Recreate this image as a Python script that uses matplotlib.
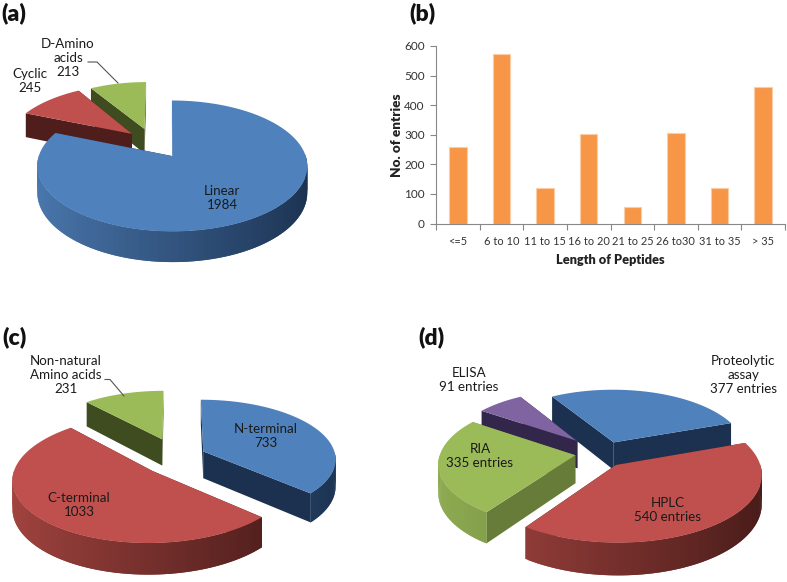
import numpy as np
import matplotlib
matplotlib.use("Agg")
import matplotlib.pyplot as plt
from matplotlib.colors import to_rgb

plt.rcParams['font.family'] = ['Lato', 'DejaVu Sans']

# panel (a)
a_names = ["Linear", "Cyclic", "D-Amino\nacids"]
a_values = [1984, 245, 213]
# panel (b)
b_labels = ["<=5", "6 to 10", "11 to 15", "16 to 20", "21 to 25", "26 to30", "31 to 35", "> 35"]
b_values = [258, 572, 121, 304, 57, 306, 121, 462]
b_ticks = [0, 100, 200, 300, 400, 500, 600]
# panel (c)
c_names = ["N-terminal", "C-terminal", "Non-natural\nAmino acids"]
c_values = [733, 1033, 231]
# panel (d)
d_names = ["Proteolytic\nassay", "HPLC", "RIA", "ELISA"]
d_values = [377, 540, 335, 91]

BLUE = dict(top="#4f81bd", left="#4a78ae", right="#1b3150", cut="#1c314f")
RED = dict(top="#c0504d", left="#a3443f", right="#471b19", cut="#4f1e1c")
GREEN = dict(top="#9bbb59", left="#8aa84f", right="#3f4c1f", cut="#3f4c1f")
GREEN_D = dict(top="#9bbb59", left="#8eab51", right="#64793a", cut="#667c38")
PURPLE = dict(top="#8064a2", left="#6a5388", right="#32264a", cut="#32264a")


def project(u, v, geo):
    w = 1 + geo["p"] * v
    return geo["cx"] + geo["rx"] * u / w, geo["cy"] - geo["ry"] * v / w, w


def pie3d(ax, values, start, geo, explode, radius, nudge, colors, order):
    # exploded pie, clockwise from 12 o'clock, flat disc seen in perspective
    edges = start + np.concatenate([[0], np.cumsum(values)]) / np.sum(values) * 360
    for z, i in enumerate(order):
        t = np.radians(np.linspace(edges[i], edges[i + 1], 121))
        mid = np.radians((edges[i] + edges[i + 1]) / 2)
        ou, ov = explode[i] * np.sin(mid), explode[i] * np.cos(mid)
        rim_x, rim_y, rim_w = project(ou + radius[i] * np.sin(t), ov + radius[i] * np.cos(t), geo)
        ax_, ay_, aw_ = project(ou, ov, geo)
        rim_x, ax_ = rim_x + nudge[i][0], ax_ + nudge[i][0]
        rim_y, ay_ = rim_y + nudge[i][1], ay_ + nudge[i][1]
        col = colors[i]
        base = z * 10 + 2
        d = geo["depth"]
        # the two cut faces
        for j in (0, -1):
            xs = [ax_, rim_x[j], rim_x[j], ax_]
            ys = [ay_, rim_y[j], rim_y[j] + d / rim_w[j], ay_ + d / aw_]
            ax.fill(xs, ys, color=col["cut"], lw=0, zorder=base)
        # outer wall with a left to right shade, quads overlap to hide seams
        c0, c1 = np.array(to_rgb(col["left"])), np.array(to_rgb(col["right"]))
        n = len(t)
        keep = [k for k in range(n - 1) if np.cos((t[k] + t[k + 1]) / 2) <= 0]
        if rim_x[0] > rim_x[-1]:
            keep = keep[::-1]
        for k in keep:
            tm = (t[k] + t[k + 1]) / 2
            f = (np.sin(tm) + 1) / 2
            e = min(k + 2, n - 1) if rim_x[0] <= rim_x[-1] else max(k - 1, 0)
            s = k if rim_x[0] <= rim_x[-1] else k + 1
            xs = [rim_x[s], rim_x[e], rim_x[e], rim_x[s]]
            ys = [rim_y[s], rim_y[e], rim_y[e] + d / rim_w[e], rim_y[s] + d / rim_w[s]]
            ax.fill(xs, ys, color=c0 + (c1 - c0) * f, lw=0, zorder=base + 1)
        ax.fill(np.r_[ax_, rim_x], np.r_[ay_, rim_y], color=col["top"], lw=0, zorder=base + 2)


fig = plt.figure(figsize=(7.87, 5.82), dpi=100)
bg = fig.add_axes([0, 0, 1, 1])
bg.set_xlim(0, 787)
bg.set_ylim(582, 0)
bg.axis("off")

pie3d(bg, a_values, 0, dict(cx=170, cy=154.5, rx=133, ry=63.5, p=0.15, depth=26),
      [0.03, 0.38, 0.38], [1, 0.96, 0.93], [(0, 0), (-1, -5.5), (-12.5, -3.5)],
      [BLUE, RED, GREEN], [2, 1, 0])
pie3d(bg, c_values, 0, dict(cx=180, cy=456, rx=135, ry=60, p=0.12, depth=27),
      [0.19, 0.3, 0.25], [0.98, 1.0, 0.95], [(0, 0), (2, 2), (-6, -3)],
      [BLUE, RED, GREEN], [2, 0, 1])
pie3d(bg, d_values, -31, dict(cx=600, cy=452, rx=135, ry=62, p=0.12, depth=28),
      [0.15, 0.2, 0.2, 0.25], [0.98, 1.05, 1, 0.95], [(7, -1), (-1, 3), (2, 1), (0, 0)],
      [BLUE, RED, GREEN_D, PURPLE], [3, 0, 2, 1])

txt = dict(ha="center", va="center", fontsize=9.6, color="#1a1a1a", zorder=100, linespacing=1.2)
bg.text(222, 198, f"{a_names[0]}\n{a_values[0]}", **txt)
bg.text(30, 81, f"{a_names[1]}\n{a_values[1]}", **txt)
bg.text(68, 58, f"{a_names[2]}\n{a_values[2]}", **txt)
bg.text(266, 436, f"{c_names[0]}\n{c_values[0]}", **txt)
bg.text(79, 505, f"{c_names[1]}\n{c_values[1]}", **txt)
bg.text(66, 375, f"{c_names[2]}\n{c_values[2]}", **txt)
bg.text(743, 375, f"{d_names[0]}\n{d_values[0]} entries", **txt)
bg.text(668, 510, f"{d_names[1]}\n{d_values[1]} entries", **txt)
bg.text(480, 456, f"{d_names[2]}\n{d_values[2]} entries", **txt)
bg.text(469, 380, f"{d_names[3]}\n{d_values[3]} entries", **txt)

# leader lines
bg.plot([88, 97, 118], [62, 62, 83], color="#555555", lw=0.8, zorder=100)
bg.plot([105, 110, 124], [379.5, 379.5, 396], color="#555555", lw=0.8, zorder=100)

for s, x, y in [("(a)", 1, 13), ("(b)", 409, 13), ("(c)", 2, 337), ("(d)", 418, 337)]:
    bg.text(x, y, s, fontsize=16.5, fontweight="heavy", ha="left", va="center", color="#111111")

# bar panel
ax = fig.add_axes([436 / 787, 1 - 223.5 / 582, 349 / 787, 177.5 / 582])
ax.patch.set_alpha(0)
pos = np.arange(len(b_values))
ax.bar(pos, b_values, width=0.4, color="#f79646", edgecolor="#fbcda6", linewidth=0.8)
ax.set_xlim(-0.5, len(b_values) - 0.5)
ax.set_ylim(0, 600)
ax.set_yticks(b_ticks)
ax.set_xticks(pos)
ax.set_xticklabels(b_labels, fontsize=7.9, color="#333333")
ax.set_xticks(np.arange(len(b_values) + 1) - 0.5, minor=True)
ax.tick_params(axis="x", which="major", length=0, pad=9)
ax.tick_params(axis="x", which="minor", length=4, color="#888888", width=0.8)
ax.tick_params(axis="y", length=4, color="#888888", width=0.8, labelsize=8.5, labelcolor="#333333", pad=4)
for side in ["top", "right"]:
    ax.spines[side].set_visible(False)
for side in ["left", "bottom"]:
    ax.spines[side].set_color("#888888")
    ax.spines[side].set_linewidth(0.8)
ax.set_xlabel("Length of Peptides", fontsize=9.2, fontweight="heavy", color="#222222", labelpad=5)
ax.set_ylabel("No. of entries", fontsize=9.7, fontweight="heavy", color="#222222", labelpad=1)

fig.savefig("out.png", dpi=100)
